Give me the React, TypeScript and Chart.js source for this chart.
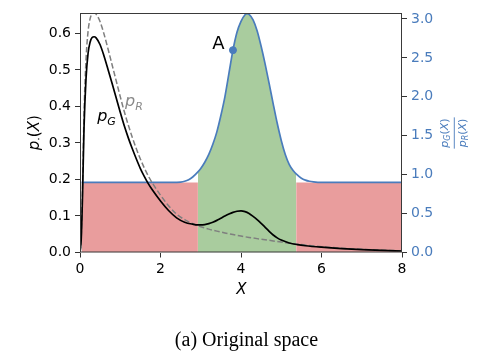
import React, { useEffect, useRef } from "react";
import { Chart, registerables } from "chart.js";

Chart.register(...registerables);

// ---- data ----
const PG_X = [0, 0.03, 0.06, 0.1, 0.15, 0.2, 0.25, 0.3, 0.35, 0.4, 0.5, 0.6, 0.7, 0.8, 0.9, 1.0, 1.1, 1.2, 1.3, 1.4, 1.5, 1.6, 1.7, 1.8, 2.0, 2.2, 2.4, 2.6, 2.8, 2.93, 3.0, 3.1, 3.2, 3.3, 3.4, 3.5, 3.6, 3.7, 3.8, 3.9, 4.0, 4.1, 4.2, 4.3, 4.4, 4.5, 4.6, 4.7, 4.8, 4.9, 5.0, 5.2, 5.4, 5.6, 6.0, 6.5, 7.0, 7.5, 8.0];
const PG_Y = [0, 0.036, 0.144, 0.342, 0.477, 0.545, 0.576, 0.589, 0.591, 0.588, 0.569, 0.537, 0.5, 0.462, 0.423, 0.384, 0.347, 0.314, 0.284, 0.256, 0.23, 0.208, 0.188, 0.171, 0.141, 0.115, 0.095, 0.083, 0.0775, 0.0755, 0.0755, 0.0765, 0.079, 0.083, 0.088, 0.094, 0.1, 0.1055, 0.11, 0.113, 0.114, 0.112, 0.107, 0.099, 0.09, 0.08, 0.069, 0.058, 0.048, 0.04, 0.034, 0.026, 0.0215, 0.0185, 0.0145, 0.0107, 0.0079, 0.0057, 0.0041];

const PR_X = [0, 0.03, 0.06, 0.1, 0.15, 0.2, 0.25, 0.3, 0.35, 0.4, 0.5, 0.6, 0.7, 0.8, 0.9, 1.0, 1.1, 1.2, 1.3, 1.4, 1.5, 1.6, 1.7, 1.8, 2.0, 2.2, 2.4, 2.6, 2.8, 3.0, 3.2, 3.4, 3.6, 3.8, 4.0, 4.2, 4.4, 4.6, 4.8, 5.0, 5.2, 5.4, 5.6, 6.0, 6.5, 7.0, 7.5, 8.0];
const PR_Y = [0, 0.04, 0.16, 0.38, 0.53, 0.605, 0.64, 0.654, 0.657, 0.653, 0.632, 0.597, 0.556, 0.513, 0.47, 0.427, 0.386, 0.349, 0.315, 0.284, 0.256, 0.231, 0.209, 0.19, 0.157, 0.128, 0.105, 0.09, 0.079, 0.0705, 0.064, 0.0585, 0.0535, 0.049, 0.045, 0.0413, 0.038, 0.035, 0.0318, 0.0285, 0.0255, 0.0228, 0.0203, 0.016, 0.0118, 0.0087, 0.0063, 0.0045];

const RATIO_X = [0.04, 0.5, 1.0, 1.5, 2.0, 2.3, 2.5, 2.6, 2.7, 2.8, 2.93, 3.0, 3.1, 3.2, 3.3, 3.4, 3.5, 3.6, 3.7, 3.8, 3.9, 4.0, 4.1, 4.15, 4.2, 4.3, 4.4, 4.5, 4.6, 4.7, 4.8, 4.9, 5.0, 5.1, 5.2, 5.3, 5.37, 5.5, 5.6, 5.7, 5.8, 6.0, 6.5, 7.0, 7.5, 8.0];
const RATIO_Y = [0.9, 0.9, 0.9, 0.9, 0.9, 0.9, 0.905, 0.915, 0.935, 0.97, 1.035, 1.08, 1.16, 1.26, 1.39, 1.55, 1.76, 2.0, 2.3, 2.6, 2.83, 2.97, 3.055, 3.07, 3.06, 2.99, 2.85, 2.65, 2.42, 2.17, 1.91, 1.66, 1.44, 1.26, 1.13, 1.05, 1.01, 0.955, 0.93, 0.915, 0.907, 0.9, 0.9, 0.9, 0.9, 0.9];

const RED_LEFT = [0.04, 2.93];
const RED_RIGHT = [5.37, 8.0];
const RED_LEVEL = 0.9;
const GREEN_RANGE = [2.93, 5.37];

const POINT_A_X = [3.8];
const POINT_A_Y = [2.6];

const X_TICKS = [0, 2, 4, 6, 8];
const LEFT_MAX = 0.656;
const RIGHT_MAX = 3.077;

// ---- styles ----
const BLUE = "#4a7cbc";
const RED_FILL = "rgb(233,157,157)";
const GREEN_FILL = "rgb(169,204,158)";
const FONT = '"DejaVu Sans"';

const zip = (xs: number[], ys: number[]) => xs.map((x, i) => ({ x, y: ys[i] }));

type Seg = { t: string; size: number; italic?: boolean; dy?: number };

function drawRich(ctx: CanvasRenderingContext2D, segs: Seg[], cx: number, baseY: number, color: string) {
  const widths = segs.map((s) => {
    ctx.font = `${s.italic ? "italic " : ""}${s.size}px ${FONT}`;
    return ctx.measureText(s.t).width;
  });
  const total = widths.reduce((a, b) => a + b, 0);
  let x = cx - total / 2;
  ctx.textAlign = "left";
  ctx.textBaseline = "alphabetic";
  ctx.fillStyle = color;
  segs.forEach((s, i) => {
    ctx.font = `${s.italic ? "italic " : ""}${s.size}px ${FONT}`;
    ctx.fillText(s.t, x, baseY + (s.dy || 0));
    x += widths[i];
  });
  return total;
}

const annotPlugin = {
  id: "annot",
  afterDatasetsDraw(chart: any) {
    const ctx: CanvasRenderingContext2D = chart.ctx;
    const a = chart.chartArea;
    ctx.save();
    // frame
    ctx.strokeStyle = "#3a3a3a";
    ctx.lineWidth = 1;
    ctx.strokeRect(a.left + 0.5, a.top + 0.5, a.right - a.left - 1, a.bottom - a.top - 1);

    // curve labels
    drawRich(ctx, [{ t: "p", size: 16, italic: true }, { t: "G", size: 11, italic: true, dy: 4 }], 106.5, 121, "#000");
    drawRich(ctx, [{ t: "p", size: 16, italic: true }, { t: "R", size: 11, italic: true, dy: 4 }], 134, 106, "#8a8a8a");
    drawRich(ctx, [{ t: "A", size: 18 }], 218.5, 48.5, "#000");

    // x title
    drawRich(ctx, [{ t: "X", size: 15, italic: true }], 241.5, 294, "#000");

    // left y title
    ctx.save();
    ctx.translate(38.5, 132.7);
    ctx.rotate(-Math.PI / 2);
    drawRich(
      ctx,
      [
        { t: "p", size: 15, italic: true },
        { t: "·", size: 11, dy: 3 },
        { t: "(", size: 15 },
        { t: "X", size: 15, italic: true },
        { t: ")", size: 15 },
      ],
      0,
      0,
      "#000"
    );
    ctx.restore();

    // right fraction title
    ctx.save();
    ctx.translate(454.3, 133);
    ctx.rotate(-Math.PI / 2);
    const num: Seg[] = [
      { t: "p", size: 11, italic: true },
      { t: "G", size: 8, italic: true, dy: 2.5 },
      { t: "(", size: 11 },
      { t: "X", size: 11, italic: true },
      { t: ")", size: 11 },
    ];
    const den: Seg[] = [
      { t: "p", size: 11, italic: true },
      { t: "R", size: 8, italic: true, dy: 2.5 },
      { t: "(", size: 11 },
      { t: "X", size: 11, italic: true },
      { t: ")", size: 11 },
    ];
    const w1 = drawRich(ctx, num, 0, -6.5, BLUE);
    const w2 = drawRich(ctx, den, 0, 11.5, BLUE);
    const w = Math.max(w1, w2) + 2;
    ctx.strokeStyle = BLUE;
    ctx.lineWidth = 0.9;
    ctx.beginPath();
    ctx.moveTo(-w / 2, 0);
    ctx.lineTo(w / 2, 0);
    ctx.stroke();
    ctx.restore();

    ctx.restore();
  },
};

export default function App() {
  const ref = useRef<HTMLCanvasElement | null>(null);

  useEffect(() => {
    if (!ref.current) return;
    const ratioPts = zip(RATIO_X, RATIO_Y);
    const greenPts = ratioPts.filter((p) => p.x >= GREEN_RANGE[0] && p.x <= GREEN_RANGE[1]);
    const chart = new Chart(ref.current, {
      type: "line",
      data: {
        datasets: [
          {
            label: "A",
            data: zip(POINT_A_X, POINT_A_Y),
            yAxisID: "y1",
            showLine: false,
            pointRadius: 3.5,
            pointBackgroundColor: BLUE,
            pointBorderColor: BLUE,
            order: 0,
          },
          {
            label: "pG",
            data: zip(PG_X, PG_Y),
            yAxisID: "y",
            borderColor: "#000",
            borderWidth: 1.7,
            pointRadius: 0,
            cubicInterpolationMode: "monotone",
            fill: false,
            order: 1,
          },
          {
            label: "pR",
            data: zip(PR_X, PR_Y),
            yAxisID: "y",
            borderColor: "#7f7f7f",
            borderWidth: 1.5,
            borderDash: [5.5, 2.5],
            pointRadius: 0,
            cubicInterpolationMode: "monotone",
            fill: false,
            order: 2,
          },
          {
            label: "ratio",
            data: ratioPts,
            yAxisID: "y1",
            borderColor: BLUE,
            borderWidth: 1.7,
            pointRadius: 0,
            cubicInterpolationMode: "monotone",
            fill: false,
            order: 3,
          },
          {
            label: "green",
            data: greenPts,
            yAxisID: "y1",
            borderColor: "transparent",
            borderWidth: 0,
            backgroundColor: GREEN_FILL,
            pointRadius: 0,
            cubicInterpolationMode: "monotone",
            fill: "origin",
            order: 4,
          },
          {
            label: "redL",
            data: RED_LEFT.map((x) => ({ x, y: RED_LEVEL })),
            yAxisID: "y1",
            borderColor: "transparent",
            borderWidth: 0,
            backgroundColor: RED_FILL,
            pointRadius: 0,
            fill: "origin",
            order: 5,
          },
          {
            label: "redR",
            data: RED_RIGHT.map((x) => ({ x, y: RED_LEVEL })),
            yAxisID: "y1",
            borderColor: "transparent",
            borderWidth: 0,
            backgroundColor: RED_FILL,
            pointRadius: 0,
            fill: "origin",
            order: 6,
          },
        ],
      },
      options: {
        animation: false,
        responsive: false,
        maintainAspectRatio: false,
        layout: { padding: { top: 13, left: 0, right: 0, bottom: 0 } },
        plugins: { legend: { display: false }, tooltip: { enabled: false } },
        scales: {
          x: {
            type: "linear",
            min: 0,
            max: 8,
            afterFit: (s: any) => {
              s.height = 47.5;
            },
            afterBuildTicks: (s: any) => {
              s.ticks = X_TICKS.map((v) => ({ value: v }));
            },
            border: { display: false },
            grid: { drawOnChartArea: false, drawTicks: true, tickLength: 5, color: "#333" },
            ticks: { font: { family: "DejaVu Sans", size: 14 }, color: "#000", padding: 3, maxRotation: 0 },
          },
          y: {
            position: "left",
            min: 0,
            max: LEFT_MAX,
            afterFit: (s: any) => {
              s.width = 80;
            },
            border: { display: false },
            grid: { drawOnChartArea: false, drawTicks: true, tickLength: 5, color: "#333" },
            ticks: {
              stepSize: 0.1,
              includeBounds: false,
              font: { family: "DejaVu Sans", size: 14 },
              color: "#000",
              padding: 4,
              callback: (v: any) => Number(v).toFixed(1),
            },
          },
          y1: {
            position: "right",
            min: 0,
            max: RIGHT_MAX,
            afterFit: (s: any) => {
              s.width = 87;
            },
            border: { display: false },
            grid: { drawOnChartArea: false, drawTicks: true, tickLength: 5, color: "#333" },
            ticks: {
              stepSize: 0.5,
              includeBounds: false,
              font: { family: "DejaVu Sans", size: 14 },
              color: BLUE,
              padding: 4,
              callback: (v: any) => Number(v).toFixed(1),
            },
          },
        },
      },
      plugins: [annotPlugin],
    } as any);
    return () => chart.destroy();
  }, []);

  return (
    <div style={{ position: "fixed", left: 0, top: 0, width: 489, height: 357, background: "#fff" }}>
      <canvas ref={ref} width={489} height={300} style={{ display: "block", width: 489, height: 300 }} />
      <div
        style={{
          position: "absolute",
          left: 2,
          top: 328,
          width: 489,
          textAlign: "center",
          fontFamily: '"Liberation Serif", serif',
          fontSize: 20,
          lineHeight: "22px",
          color: "#000",
        }}
      >
        (a) Original space
      </div>
    </div>
  );
}
